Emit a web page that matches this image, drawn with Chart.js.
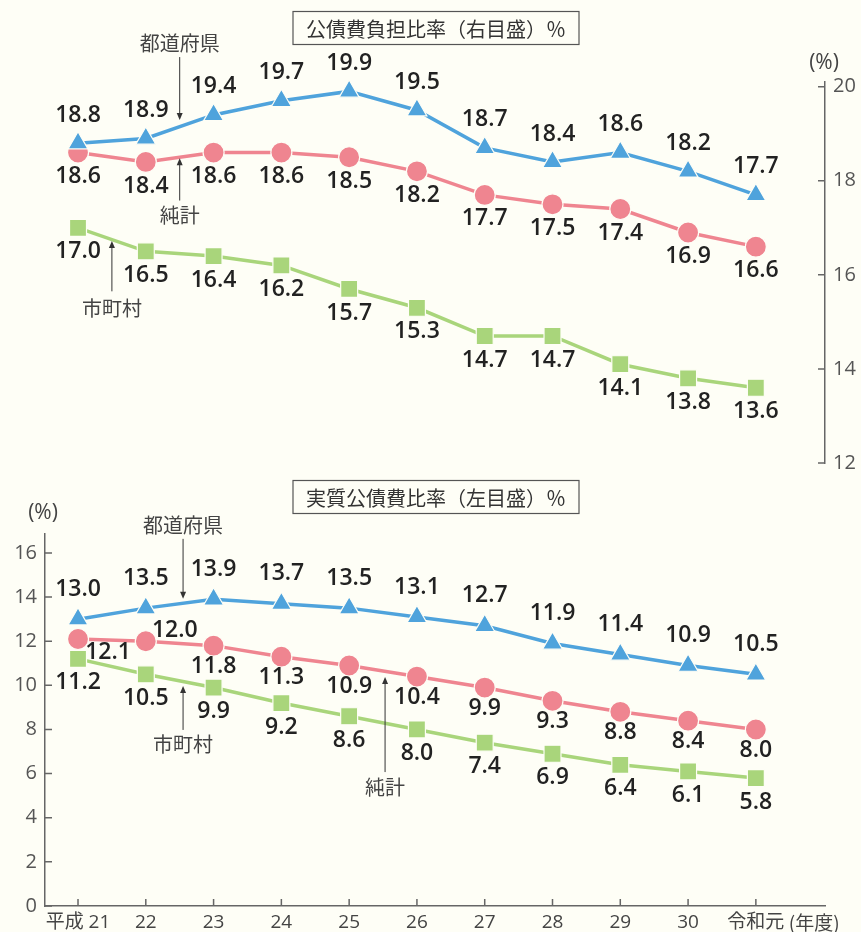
<!DOCTYPE html>
<html lang="ja">
<head>
<meta charset="utf-8">
<script src="https://cdn.jsdelivr.net/npm/chart.js@4.4.1/dist/chart.umd.min.js"></script>
<style>
  html, body { margin: 0; padding: 0; background: #fefef6; }
  canvas { position: absolute; left: 0; }
  #burden { top: 0; }
  #real { top: 470px; }
</style>
</head>
<body>
<canvas id="burden" width="861" height="483"></canvas>
<canvas id="real" width="861" height="462"></canvas>
<script>
// categories
const YEARS = ['平成 21', '22', '23', '24', '25', '26', '27', '28', '29', '30', '令和元'];

// 公債費負担比率 (right axis)
const BURDEN_PREF = [18.8, 18.9, 19.4, 19.7, 19.9, 19.5, 18.7, 18.4, 18.6, 18.2, 17.7];
const BURDEN_NET = [18.6, 18.4, 18.6, 18.6, 18.5, 18.2, 17.7, 17.5, 17.4, 16.9, 16.6];
const BURDEN_MUNI = [17.0, 16.5, 16.4, 16.2, 15.7, 15.3, 14.7, 14.7, 14.1, 13.8, 13.6];
const BURDEN_TICKS = [12, 14, 16, 18, 20];

// 実質公債費比率 (left axis)
const REAL_PREF = [13.0, 13.5, 13.9, 13.7, 13.5, 13.1, 12.7, 11.9, 11.4, 10.9, 10.5];
const REAL_NET = [12.1, 12.0, 11.8, 11.3, 10.9, 10.4, 9.9, 9.3, 8.8, 8.4, 8.0];
const REAL_MUNI = [11.2, 10.5, 9.9, 9.2, 8.6, 8.0, 7.4, 6.9, 6.4, 6.1, 5.8];
const REAL_TICKS = [0, 2, 4, 6, 8, 10, 12, 14, 16];

const COLORS = {
  pref: '#4fa3dc',
  net: '#ef8590',
  muni: '#a9d57b',
  bg: '#fefef6',
  axis: '#666666',
  text: '#222222',
  note: '#444444'
};

const NUM_FONT = '"Open Sans", "Noto Sans CJK JP", sans-serif';
const JP_FONT = '"Noto Sans CJK JP", sans-serif';
const X_MIN = -0.487;
const X_MAX = 11.02;

function series(values, color, pointStyle, radius) {
  return {
    data: values.map((y, x) => ({ x, y })),
    borderColor: color,
    backgroundColor: color,
    borderWidth: 3.5,
    pointStyle: pointStyle,
    pointRadius: radius,
    pointHoverRadius: radius,
    pointBackgroundColor: color,
    pointBorderColor: COLORS.bg,
    pointBorderWidth: 1.2,
    tension: 0,
    clip: false
  };
}

function arrow(ctx, x, y1, y2) {
  const dir = y2 > y1 ? 1 : -1;
  ctx.beginPath();
  ctx.moveTo(x, y1);
  ctx.lineTo(x, y2 - dir * 4);
  ctx.stroke();
  ctx.beginPath();
  ctx.moveTo(x, y2);
  ctx.lineTo(x - 3, y2 - dir * 7);
  ctx.lineTo(x + 3, y2 - dir * 7);
  ctx.closePath();
  ctx.fill();
}

/** Draws inward ticks, title box, unit, data labels and the arrow notes. */
const decor = {
  id: 'decor',
  afterDatasetsDraw(chart, args, o) {
    const { ctx, chartArea: a, scales } = chart;
    const xs = scales.x, ys = scales.y;
    ctx.save();

    // inward tick marks
    ctx.strokeStyle = COLORS.axis;
    ctx.lineWidth = 1.5;
    ctx.beginPath();
    const right = ys.options.position === 'right';
    const edge = right ? a.right : a.left;
    ys.ticks.forEach(t => {
      const p = ys.getPixelForValue(t.value);
      ctx.moveTo(edge, p);
      ctx.lineTo(edge + (right ? -7 : 7), p);
    });
    if (xs.options.display) {
      xs.ticks.forEach(t => {
        const p = xs.getPixelForValue(t.value);
        ctx.moveTo(p, a.bottom);
        ctx.lineTo(p, a.bottom - 7);
      });
    }
    ctx.stroke();

    // title box
    ctx.font = '20px ' + JP_FONT;
    const tw = ctx.measureText(o.title).width + 26;
    ctx.fillStyle = COLORS.bg;
    ctx.fillRect(o.titleX - tw / 2, o.titleY - 16.5, tw, 33);
    ctx.strokeStyle = '#555';
    ctx.lineWidth = 1.2;
    ctx.strokeRect(o.titleX - tw / 2, o.titleY - 16.5, tw, 33);
    ctx.fillStyle = '#333';
    ctx.textAlign = 'center';
    ctx.textBaseline = 'middle';
    ctx.fillText(o.title, o.titleX, o.titleY + 1);

    // unit
    ctx.font = '21px ' + NUM_FONT;
    ctx.fillStyle = COLORS.note;
    ctx.fillText('(%)', o.unitX, o.unitY);

    // (年度) after the last category
    if (xs.options.display) {
      const last = xs.getPixelForValue(YEARS.length - 1);
      ctx.font = '19px ' + JP_FONT;
      ctx.textAlign = 'left';
      ctx.fillText('(年度)', last + 33, a.bottom + 17);
    }

    // data labels
    ctx.font = '600 23px ' + NUM_FONT;
    ctx.fillStyle = COLORS.text;
    ctx.textAlign = 'center';
    chart.data.datasets.forEach((ds, di) => {
      chart.getDatasetMeta(di).data.forEach((pt, i) => {
        const move = o.labelMoves[di + ':' + i] || { dx: 0, dy: o.labelDy[di] };
        ctx.fillText(ds.data[i].y.toFixed(1), pt.x + move.dx, pt.y + move.dy);
      });
    });

    // arrow notes
    ctx.font = '20px ' + JP_FONT;
    ctx.strokeStyle = '#333';
    ctx.lineWidth = 1;
    o.notes.forEach(n => {
      const x = xs.getPixelForValue(n.x);
      ctx.fillStyle = COLORS.note;
      ctx.fillText(n.text, x, ys.getPixelForValue(n.textY));
      ctx.fillStyle = '#333';
      arrow(ctx, x, ys.getPixelForValue(n.from), ys.getPixelForValue(n.to));
    });
    ctx.restore();
  }
};

function xScale(display) {
  return {
    type: 'linear',
    display: display,
    min: X_MIN,
    max: X_MAX,
    afterBuildTicks: s => { s.ticks = YEARS.map((_, i) => ({ value: i })); },
    afterFit: s => { if (display) s.height = 26; },
    grid: { drawOnChartArea: false, drawTicks: false },
    border: { color: COLORS.axis, width: 1.5 },
    ticks: {
      padding: 5,
      color: COLORS.note,
      font: { family: NUM_FONT, size: 19 },
      callback: v => YEARS[v]
    }
  };
}

function yScale(position, min, max, ticks, width) {
  return {
    position: position,
    min: min,
    max: max,
    afterBuildTicks: s => { s.ticks = ticks.map(v => ({ value: v })); },
    afterFit: s => { s.width = width; },
    grid: { drawOnChartArea: false, drawTicks: false },
    border: { color: COLORS.axis, width: 1.5 },
    ticks: {
      padding: 8,
      color: '#555',
      font: { family: NUM_FONT, size: 20 }
    }
  };
}

function makeChart(canvasId, sets, x, y, padding, decorOpts) {
  return new Chart(document.getElementById(canvasId), {
    type: 'line',
    data: { datasets: sets },
    options: {
      responsive: false,
      animation: false,
      events: [],
      layout: { padding: padding },
      scales: { x: x, y: y },
      plugins: { legend: { display: false }, tooltip: { enabled: false }, decor: decorOpts }
    },
    plugins: [decor]
  });
}

makeChart('burden', [
  series(BURDEN_PREF, COLORS.pref, 'triangle', 11.5),
  series(BURDEN_NET, COLORS.net, 'circle', 10.5),
  series(BURDEN_MUNI, COLORS.muni, 'rect', 12)
], xScale(false), yScale('right', 12, 20.1, BURDEN_TICKS, 36),
{ left: 45, top: 82, bottom: 9, right: 0 },
{
  title: '公債費負担比率（右目盛）％',
  titleX: 436, titleY: 28,
  unitX: 824, unitY: 63,
  labelDy: [-28, 24, 24],
  labelMoves: {},
  notes: [
    { text: '都道府県', x: 1.5, textY: 20.93, from: 20.63, to: 19.29 },
    { text: '純計', x: 1.5, textY: 17.26, from: 17.58, to: 18.48 },
    { text: '市町村', x: 0.5, textY: 15.29, from: 15.65, to: 16.72 }
  ]
});

makeChart('real', [
  series(REAL_PREF, COLORS.pref, 'triangle', 11.5),
  series(REAL_NET, COLORS.net, 'circle', 10.5),
  series(REAL_MUNI, COLORS.muni, 'rect', 12)
], xScale(true), yScale('left', 0, 16.86, REAL_TICKS, 45),
{ left: 0, top: 64, bottom: 0, right: 36 },
{
  title: '実質公債費比率（左目盛）％',
  titleX: 436, titleY: 27,
  unitX: 43, unitY: 43,
  labelDy: [-30, 21, 24],
  labelMoves: { '1:0': { dx: 30, dy: 13 }, '1:1': { dx: 29, dy: -11 } },
  notes: [
    { text: '都道府県', x: 1.55, textY: 17.27, from: 16.64, to: 13.92 },
    { text: '市町村', x: 1.55, textY: 7.34, from: 7.98, to: 9.97 },
    { text: '純計', x: 4.53, textY: 5.39, from: 6.07, to: 10.38 }
  ]
});
</script>
</body>
</html>
